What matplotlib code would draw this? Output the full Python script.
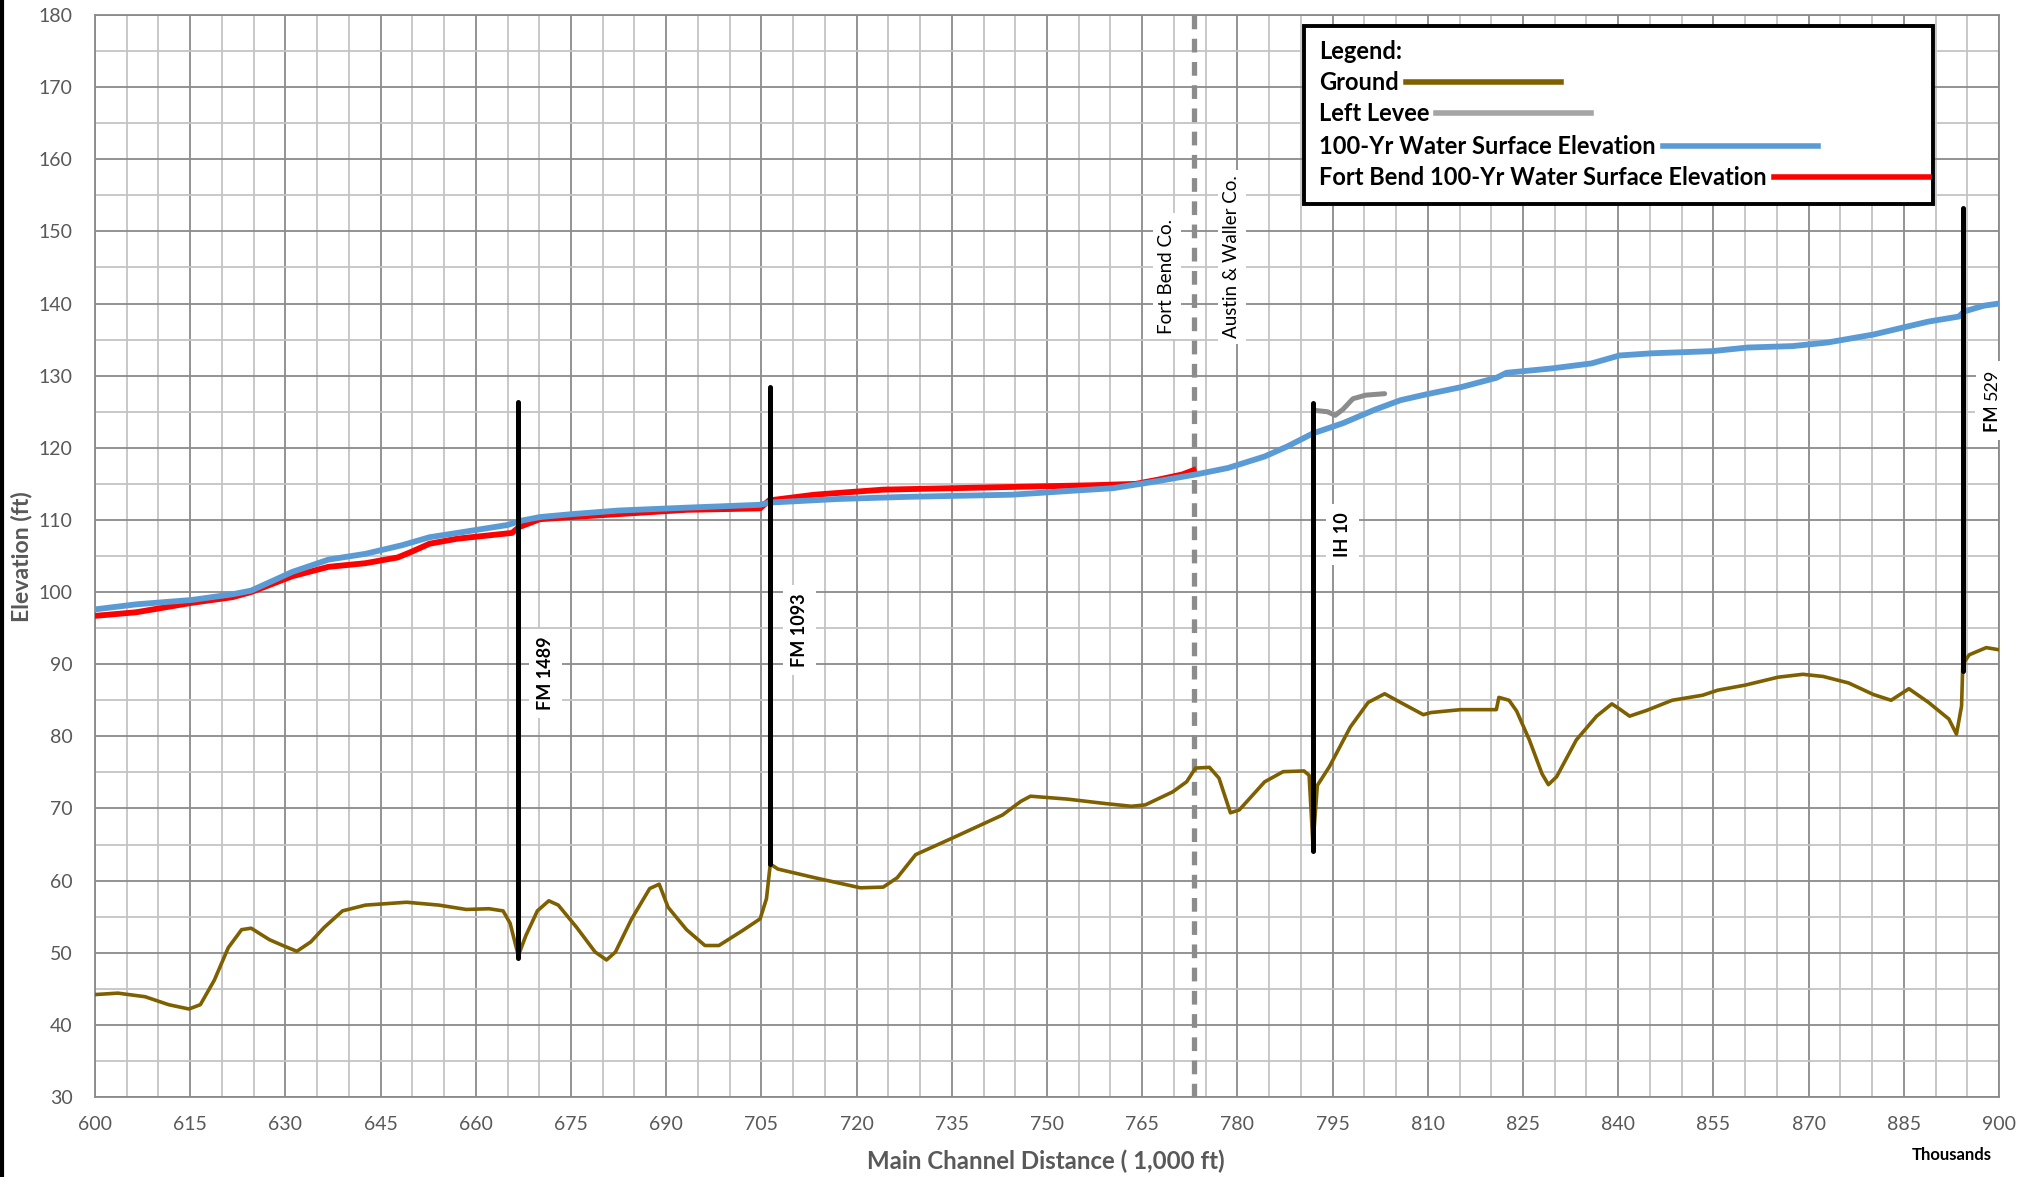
import matplotlib
matplotlib.use("Agg")
import matplotlib.pyplot as plt
from matplotlib.patches import Rectangle
from matplotlib.lines import Line2D
from matplotlib.ticker import MultipleLocator

plt.rcParams["font.family"] = ["Lato", "DejaVu Sans"]

# -------------------------
# Data
# -------------------------
ground_x = [600, 603.6, 607.9, 611.6, 614.8, 616.6, 618.8, 621, 623.1, 624.6,
            627.5, 629.6, 631.8, 634, 636.1, 639, 642.6, 649.1, 654.2, 658.5,
            662.1, 664.3, 665.4, 666.7, 667.9, 669.7, 671.5, 673, 675.9, 678.8,
            680.6, 682, 684.5, 687.4, 688.9, 690.3, 693.2, 696.1, 698.3, 701.9,
            704.8, 705.8, 706.4, 707.6, 713.4, 720.6, 724.2, 726.4, 729.3, 735.1,
            743, 745.9, 747.4, 753.2, 759, 763.3, 765.5, 769.8, 772, 773.4,
            775.6, 777.1, 778.9, 780.3, 784.3, 787.2, 790.5, 791.3, 791.9, 792.6,
            794.5, 797.8, 800.6, 803.2, 805.7, 809.3, 810.5, 815.2, 820.8, 821.2,
            822.8, 824, 826, 828, 829, 830.3, 833.4, 836.6, 839, 840.2,
            841.8, 844.5, 848.5, 853.3, 855.7, 860, 865.2, 869.1, 872.3, 876.3,
            880.2, 883, 885.8, 888.9, 892.1, 893.3, 894.1, 894.3, 895.3, 898, 900]
ground_y = [44.2, 44.4, 43.9, 42.8, 42.2, 42.8, 46.2, 50.7, 53.2, 53.4,
            51.8, 51.0, 50.2, 51.5, 53.5, 55.8, 56.6, 57.0, 56.6, 56.0,
            56.1, 55.8, 54.1, 49.6, 52.4, 55.8, 57.2, 56.6, 53.5, 50.1,
            49.0, 50.1, 54.6, 58.9, 59.5, 56.3, 53.2, 51.0, 51.0, 53.0,
            54.7, 57.5, 62.3, 61.6, 60.4, 59.0, 59.1, 60.4, 63.6, 65.9,
            69.1, 71.0, 71.7, 71.3, 70.7, 70.3, 70.5, 72.3, 73.7, 75.6,
            75.7, 74.2, 69.4, 69.8, 73.7, 75.1, 75.2, 74.6, 65.0, 73.2,
            75.8, 81.3, 84.7, 85.9, 84.7, 83.0, 83.3, 83.7, 83.7, 85.4,
            85.0, 83.5, 79.5, 74.8, 73.3, 74.4, 79.5, 82.8, 84.5, 83.8,
            82.8, 83.6, 85.0, 85.7, 86.4, 87.1, 88.2, 88.6, 88.3, 87.4,
            85.8, 85.0, 86.6, 84.7, 82.4, 80.3, 84.2, 90.0, 91.3, 92.3, 92.0]

wse_x = [600, 606.5, 615.2, 621.7, 624.6, 631.1, 636.8, 642.6, 648.4, 652.7,
         657.1, 665, 667.2, 670.1, 675.1, 682.4, 693.2, 704.8, 706.2, 717,
         727.9, 744.5, 753.2, 760.4, 767.6, 773.4, 778.5, 784.3, 787.9, 791.9,
         796.6, 801.7, 805.7, 809.7, 815.2, 820.8, 822.4, 829.5, 835.8, 840.2,
         845.3, 854.8, 860.4, 867.5, 873, 880.2, 885, 888.9, 893.7, 894.5,
         897.6, 900]
wse_y = [97.6, 98.3, 98.9, 99.7, 100.2, 102.8, 104.5, 105.3, 106.5, 107.6,
         108.2, 109.3, 109.9, 110.4, 110.8, 111.3, 111.7, 112.1, 112.4, 112.9,
         113.2, 113.5, 114.0, 114.4, 115.4, 116.3, 117.2, 118.8, 120.2, 122.0,
         123.4, 125.3, 126.6, 127.4, 128.4, 129.7, 130.4, 131.0, 131.7, 132.8,
         133.1, 133.4, 133.9, 134.1, 134.6, 135.7, 136.7, 137.5, 138.2, 138.9,
         139.7, 140.0]

fb_x = [600, 606.5, 615.2, 621.7, 624.6, 631.1, 636.8, 642.6, 647.7, 649.9,
        652.7, 657.1, 665.7, 666.8, 670.1, 675.1, 682.4, 693.2, 704.8, 706.2,
        713.4, 724.2, 735.1, 745.9, 756.8, 764, 767.6, 771.3, 773.1]
fb_y = [96.7, 97.2, 98.5, 99.3, 100.0, 102.2, 103.5, 104.0, 104.8, 105.6,
        106.7, 107.4, 108.2, 109.0, 110.1, 110.4, 110.8, 111.4, 111.6, 112.7,
        113.5, 114.2, 114.4, 114.6, 114.8, 115.0, 115.6, 116.3, 116.9]

levee_x = [792, 794.2, 795.4, 796.6, 798.2, 800.2, 803.2]
levee_y = [125.2, 125.0, 124.5, 125.3, 126.8, 127.3, 127.5]

bridge_names = ["FM 1489", "FM 1093", "IH 10", "FM 529"]
bridge_x = [666.7, 706.4, 791.9, 894.4]
bridge_low = [49.3, 62.3, 64.1, 89.0]
bridge_high = [126.3, 128.4, 126.2, 153.3]
bridge_label_x = [671, 711, 796.6, 898.9]
bridge_label_y = [88.7, 94.7, 108.0, 126.2]

county_line_x = 773.2

C_GROUND = "#7F6000"
C_LEVEE = "#8C8C8C"
C_WSE = "#5B9BD5"
C_FB = "#FF0000"
TICK_C = "#595959"

# -------------------------
# Figure
# -------------------------
fig = plt.figure(figsize=(20.38, 11.77), dpi=100)
ax = fig.add_axes([95 / 2038, 1 - 1097 / 1177, 1904 / 2038, 1082 / 1177])

ax.set_xlim(600, 900)
ax.set_ylim(30, 180)
ax.xaxis.set_major_locator(MultipleLocator(15))
ax.xaxis.set_minor_locator(MultipleLocator(5))
ax.yaxis.set_major_locator(MultipleLocator(10))
ax.yaxis.set_minor_locator(MultipleLocator(5))
ax.grid(which="major", color="#8A8A8A", lw=1.3, zorder=0)
ax.grid(which="minor", color="#C4C4C4", lw=1.3, zorder=0)
ax.set_axisbelow(True)
for s in ax.spines.values():
    s.set_color("#8A8A8A")
    s.set_linewidth(1.3)
ax.tick_params(which="both", length=0, colors=TICK_C, labelsize=14)
ax.tick_params(axis="x", pad=14)
ax.tick_params(axis="y", pad=16)

# county line
ax.axvline(county_line_x, color="#8C8C8C", lw=3.8, ls=(0, (2.6, 1.8)), zorder=3)

ax.plot(ground_x, ground_y, color=C_GROUND, lw=2.6, zorder=4, solid_joinstyle="round")
ax.plot(levee_x, levee_y, color=C_LEVEE, lw=3.6, zorder=4, solid_capstyle="round")
ax.plot(fb_x, fb_y, color=C_FB, lw=4.2, zorder=5, solid_joinstyle="round")
ax.plot(wse_x, wse_y, color=C_WSE, lw=4.2, zorder=6, solid_joinstyle="round")

for name, bx, lo, hi, lx, ly in zip(bridge_names, bridge_x, bridge_low, bridge_high,
                                    bridge_label_x, bridge_label_y):
    ax.plot([bx, bx], [lo, hi], color="black", lw=3.6, zorder=7, solid_capstyle="round")
    box = dict(boxstyle="square,pad=0.45", fc="white", ec="none")
    if name == "FM 529":
        ax.text(lx, ly + 0.4, "FM ", rotation=90, ha="center", va="top", fontsize=13,
                fontweight="bold", bbox=box, zorder=8)
        ax.text(lx, ly + 0.4, "529", rotation=90, ha="center", va="bottom", fontsize=13,
                bbox=box, zorder=8)
    else:
        ax.text(lx, ly, name, rotation=90, ha="center", va="center", fontsize=13,
                fontweight="bold", bbox=box, zorder=8)

cbox = dict(boxstyle="square,pad=0.3", fc="white", ec="none")
ax.text(768.9, 143.8, "Fort Bend Co.", rotation=90, ha="center", va="center",
        fontsize=13.5, bbox=cbox, zorder=8)
ax.text(779.1, 146.5, "Austin & Waller Co.", rotation=90, ha="center", va="center",
        fontsize=13.5, bbox=cbox, zorder=8)

# -------------------------
# Hand built legend box
# -------------------------
ax.add_patch(Rectangle((790.5, 153.8), 99.1, 24.7, fc="white", ec="black", lw=2.8,
                       zorder=10, clip_on=False))
leg_rows = [("Legend:", None), ("Ground", C_GROUND), ("Left Levee", "#A5A5A5"),
            ("100-Yr Water Surface Elevation", C_WSE),
            ("Fort Bend 100-Yr Water Surface Elevation", C_FB)]
leg_y = [175.0, 170.7, 166.4, 161.8, 157.5]
txts = []
for (lab, col), yy in zip(leg_rows, leg_y):
    t = ax.text(792.85, yy, lab, ha="left", va="center", fontsize=17,
                fontweight="bold", color="black", zorder=11)
    txts.append((t, col, yy))

fig.canvas.draw()
r = fig.canvas.get_renderer()
inv = ax.transData.inverted()
for t, col, yy in txts:
    if col is None:
        continue
    bb = t.get_window_extent(r)
    x0 = inv.transform((bb.x1 + 7, 0))[0]
    x1 = inv.transform((bb.x1 + 7 + 155, 0))[0]
    ax.add_line(Line2D([x0, x1], [yy, yy], color=col, lw=4, zorder=11))

fig.text(1046 / 2038, 1 - 1161 / 1177, "Main Channel Distance ( 1,000 ft)",
         ha="center", va="center", fontsize=17.3, fontweight="bold", color=TICK_C)
fig.text(22 / 2038, 1 - 557 / 1177, "Elevation (ft)", rotation=90,
         ha="center", va="center", fontsize=16.6, fontweight="bold", color=TICK_C)
fig.text(1952 / 2038, 1 - 1155 / 1177, "Thousands", ha="center", va="center",
         fontsize=12, fontweight="bold", color="black")

# thin frame edge on the left of the image
fig.add_artist(Line2D([0.0012, 0.0012], [0, 1], color="black", lw=3,
                      transform=fig.transFigure))

fig.savefig("out.png", dpi=100)
